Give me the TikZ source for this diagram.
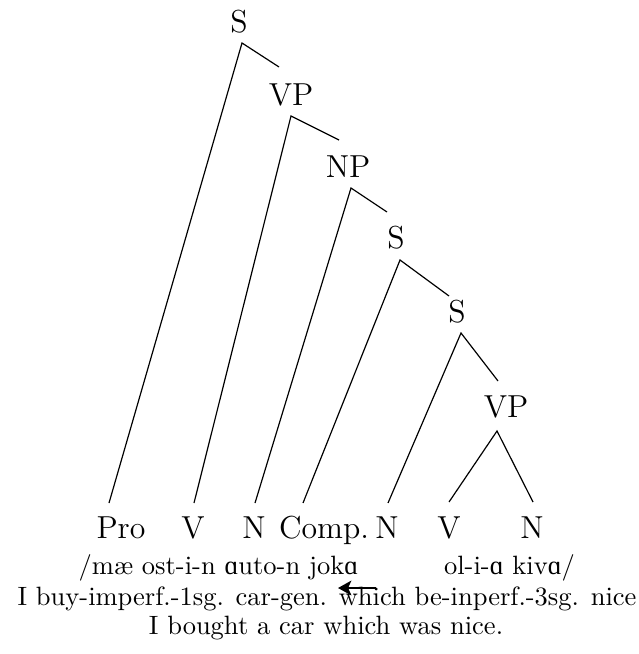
\documentclass[tikz,border=0pt]{standalone}
\usepackage{fontspec}
\usepackage{tikz}
\usetikzlibrary{arrows.meta}
\newfontfamily\ipafont{Liberation Serif}[Scale=1.0]
\newcommand{\opena}{{\ipafont ɑ}}

\begin{document}
\begin{tikzpicture}[x=0.3774pt,y=-0.3774pt,
  cat/.style={font=\large,inner sep=0pt},
  leaf/.style={font=\large,inner sep=0pt,anchor=base},
  gloss/.style={inner sep=0pt,anchor=base},
  edge/.style={line width=0.45pt},
  pointer/.style={-{Stealth[length=5pt,width=5.5pt,inset=1.2pt]},line width=1.1pt}]
\useasboundingbox (0,0) rectangle (638,654);
% category labels
\node[cat] (s0) at (239,22) {S};
\node[cat] (vp1) at (291,95) {VP};
\node[cat] (np) at (348,167) {NP};
\node[cat] (s1) at (396,238) {S};
\node[cat] (s2) at (457,312) {S};
\node[cat] (vp2) at (506,407) {VP};
% apexes and short right branches
\coordinate (s0a) at (242,43);  \coordinate (s0r) at (279,67);
\coordinate (vp1a) at (291,116); \coordinate (vp1r) at (339,140);
\coordinate (npa) at (351,188);  \coordinate (npr) at (387,212);
\coordinate (s1a) at (400,260);  \coordinate (s1r) at (449,296);
\coordinate (s2a) at (461,333);  \coordinate (s2r) at (498,381);
\coordinate (vp2a) at (497,431);
% leaves
\node[leaf] (pro) at (121,538) {Pro};
\node[leaf] (v1) at (193,538) {V};
\node[leaf] (n1) at (254,538) {N};
\node[leaf] (comp) at (324,538) {Comp.};
\node[leaf] (n2) at (387,538) {N};
\node[leaf] (v2) at (449,538) {V};
\node[leaf] (n3) at (532,538) {N};
\coordinate (proT) at (109,503); \coordinate (v1T) at (194,503);
\coordinate (n1T) at (255,503);  \coordinate (compT) at (303,503);
\coordinate (n2T) at (388,503);  \coordinate (v2T) at (449,502);
\coordinate (n3T) at (533,502);
% tree edges
\draw[edge] (proT) -- (s0a) -- (s0r);
\draw[edge] (v1T) -- (vp1a) -- (vp1r);
\draw[edge] (n1T) -- (npa) -- (npr);
\draw[edge] (compT) -- (s1a) -- (s1r);
\draw[edge] (n2T) -- (s2a) -- (s2r);
\draw[edge] (v2T) -- (vp2a) -- (n3T);
% glosses
\node[gloss] (form1) at (218.5,574) {/mæ ost-i-n \opena uto-n jok\opena};
\node[gloss] (form2) at (509.5,574) {ol-i-\opena{} kiv\opena/};
\node[gloss] (word) at (327,605) {I buy-imperf.-1sg. car-gen. which be-inperf.-3sg. nice};
\node[gloss] (trans) at (326,634) {I bought a car which was nice.};
\coordinate (arrB) at (376,588); \coordinate (arrE) at (338,588);
\draw[pointer] (arrB) -- (arrE);
\end{tikzpicture}
\end{document}
